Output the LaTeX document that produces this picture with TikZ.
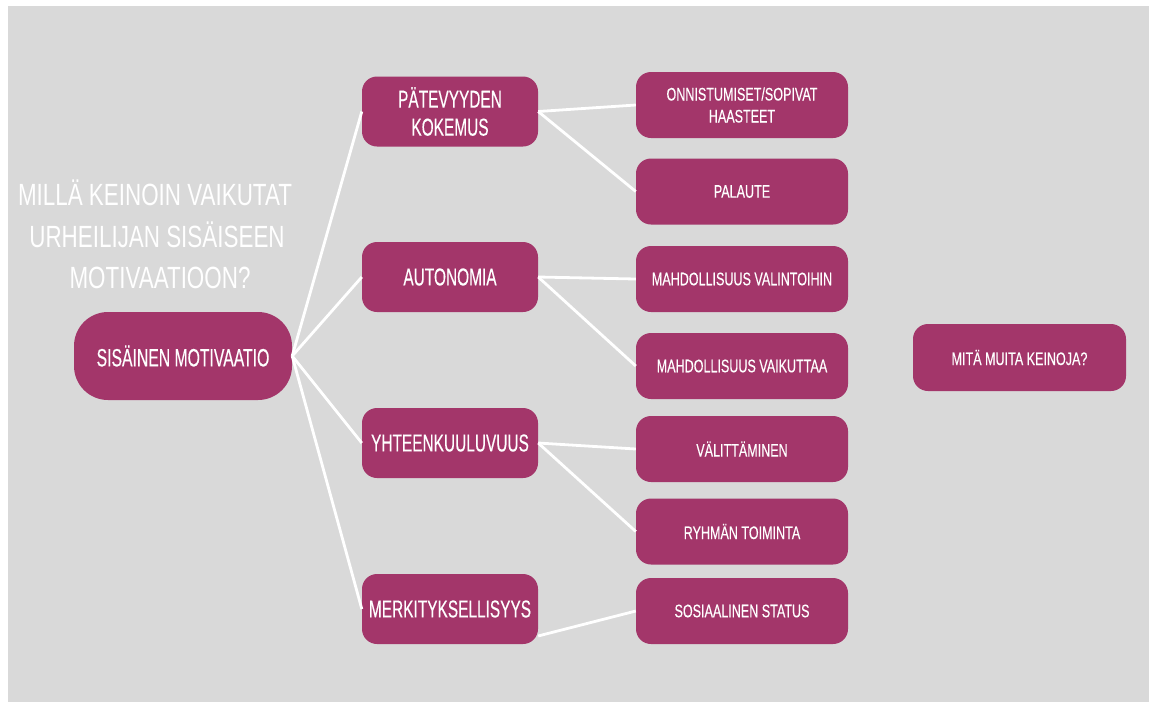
\documentclass[tikz,border=0pt]{standalone}
\usepackage{fontspec}
\setmainfont{Liberation Sans}
\newfontfamily\midfont{Liberation Sans}[FakeStretch=0.63, FakeBold=0.3]
\newfontfamily\leaffont{Liberation Sans}[FakeStretch=0.69, FakeBold=0.3]
\newfontfamily\titlefont{Liberation Sans}[FakeStretch=0.73]
\definecolor{plum}{HTML}{A3366A}
\definecolor{panel}{HTML}{D9D9D9}
\begin{document}
\begin{tikzpicture}[x=1pt,y=-1pt,
  box/.style={fill=plum, text=white, rounded corners=15pt, inner sep=0pt, align=center},
  hub/.style={box, rounded corners=34pt, minimum width=218pt, minimum height=88pt,
    font=\midfont\fontsize{25}{28}\selectfont},
  mid/.style={box, minimum width=176pt, minimum height=70pt,
    font=\midfont\fontsize{24.5}{28}\selectfont},
  leaf/.style={box, minimum width=212pt, minimum height=66pt,
    font=\leaffont\fontsize{18.2}{22}\selectfont},
  link/.style={draw=white, line width=2.8pt},
  ttl/.style={text=white, inner sep=0pt, anchor=base,
    font=\titlefont\fontsize{30.7}{36}\selectfont}]

% page and grey panel
\useasboundingbox (0,0) rectangle (1150,702);
\fill[white] (0,0) rectangle (1150,702);
\fill[panel] (8,6) rectangle (1149,702);

% question
\node[ttl] (t1) at (155,205) {MILLÄ KEINOIN VAIKUTAT};
\node[ttl] (t2) at (157,247) {URHEILIJAN SISÄISEEN};
\node[ttl] (t3) at (160,288) {MOTIVAATIOON?};

% central node
\node[hub] (sm) at (183,356) {SISÄINEN MOTIVAATIO};

% four needs
\node[mid] (p1) at (450,111.5) {PÄTEVYYDEN\\KOKEMUS};
\node[mid] (p2) at (450,277) {AUTONOMIA};
\node[mid] (p3) at (450,443) {YHTEENKUULUVUUS};
\node[mid] (p4) at (450,609) {MERKITYKSELLISYYS};

% means
\node[leaf] (c1) at (742,105) {ONNISTUMISET/SOPIVAT\\HAASTEET};
\node[leaf] (c2) at (742,191.5) {PALAUTE};
\node[leaf] (c3) at (742,279) {MAHDOLLISUUS VALINTOIHIN};
\node[leaf] (c4) at (742,366) {MAHDOLLISUUS VAIKUTTAA};
\node[leaf] (c5) at (742,449) {VÄLITTÄMINEN};
\node[leaf] (c6) at (742,531.5) {RYHMÄN TOIMINTA};
\node[leaf] (c7) at (742,611) {SOSIAALINEN STATUS};

\node[leaf, minimum width=213pt, minimum height=67pt] (q) at (1019.5,357.5) {MITÄ MUITA KEINOJA?};

% connectors
\foreach \n in {p1,p2,p3,p4} \draw[link] (sm.east) -- (\n.west);
\draw[link] (p1.east) -- (c1.west);
\draw[link] (p1.east) -- (c2.west);
\draw[link] (p2.east) -- (c3.west);
\draw[link] (p2.east) -- (c4.west);
\draw[link] (p3.east) -- (c5.west);
\draw[link] (p3.east) -- (c6.west);
\draw[link] (p4.-17.6) -- (c7.west);
\end{tikzpicture}
\end{document}
